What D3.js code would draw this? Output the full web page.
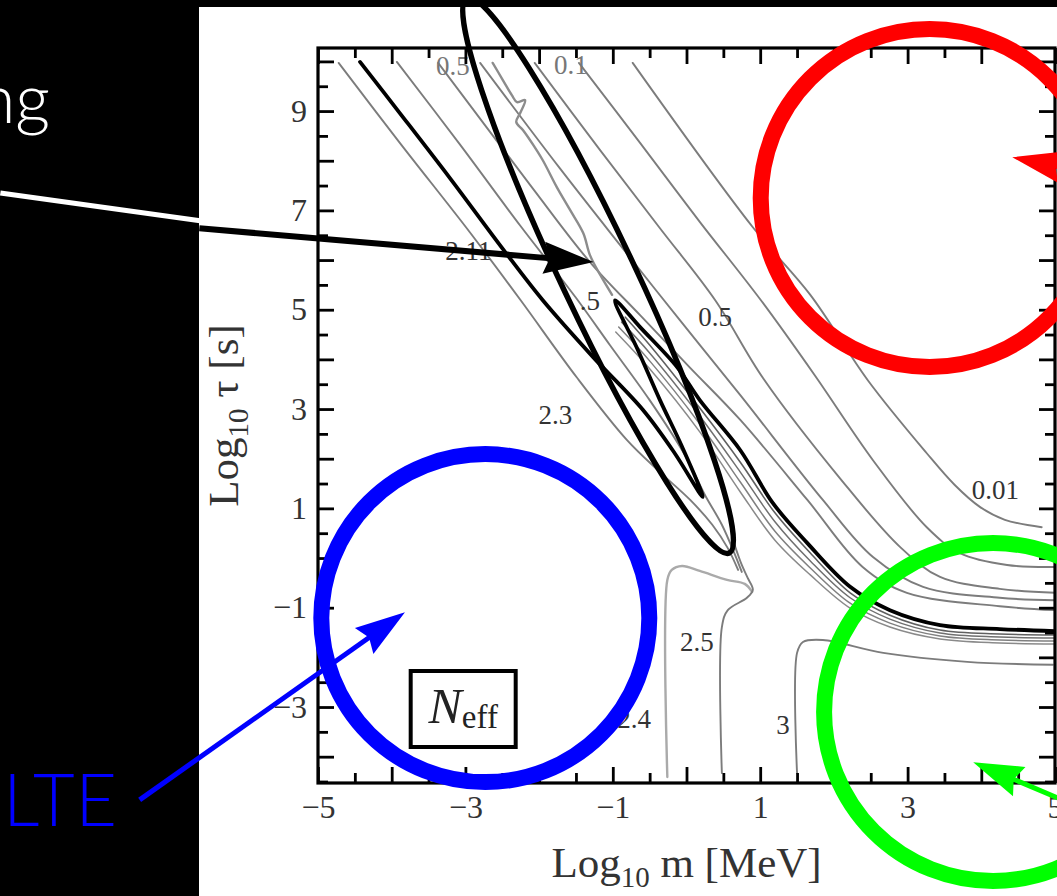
<!DOCTYPE html>
<html><head><meta charset="utf-8">
<script src="https://cdn.jsdelivr.net/npm/d3@7"></script>
<style>html,body{margin:0;padding:0;background:#000;overflow:hidden}</style>
</head><body>
<svg id="c" width="1057" height="896"></svg>
<script>
// ---------- data (log10 m [MeV], log10 tau [s]) ----------
const xDomain = [-5, 5];
const yDomain = [-4.53, 10.27];
const xMajorTicks = [-5,-4,-3,-2,-1,0,1,2,3,4,5];
const xMinorTicks = [-4.5,-3.5,-2.5,-1.5,-0.5,0.5,1.5,2.5,3.5,4.5];
const xLabelTicks = [-5,-3,-1,1,3,5];
const yMajorTicks = [-4,-3,-2,-1,0,1,2,3,4,5,6,7,8,9,10];
const yMinorTicks = [-4.5,-3.5,-2.5,-1.5,-0.5,0.5,1.5,2.5,3.5,4.5,5.5,6.5,7.5,8.5,9.5];
const yLabelTicks = [9,7,5,3,1,-1,-3];

// contour lines
const lvl001 = [[-0.73,9.97],[0.90,6.66],[1.68,5.30],[2.46,3.58],[3.26,2.11],[3.64,1.47],[3.98,1.03],[4.32,0.77],[4.82,0.62]];
const lvl01  = [[-1.46,9.97],[-0.63,8.36],[0.18,6.77],[1.01,5.19],[1.74,3.68],[2.53,1.97],[3.26,0.62],[3.71,0.10],[4.35,-0.14],[5.0,-0.18]];
const lvl05  = [[-2.06,9.97],[-1.17,8.21],[-0.36,6.64],[0.39,5.19],[1.04,3.62],[2.08,1.61],[2.90,0.22],[3.44,-0.38],[4.25,-0.62],[5.0,-0.70]];
const lvl1   = [[-2.80,9.97],[-1.72,7.85],[-0.90,6.30],[-0.09,4.79],[0.73,3.28],[1.85,1.17],[2.53,0.02],[3.21,-0.58],[4.25,-0.80],[5.0,-0.85]];
const lvl15  = [[-3.37,9.97],[-2.12,7.51],[-1.31,5.96],[-0.63,4.89],[0.05,3.83],[0.73,2.78],[1.64,1.17],[2.39,-0.18],[2.99,-0.70],[4.25,-0.97],[5.0,-1.05]];
const lvl2w  = [[-2.63,9.97],[-2.49,9.62],[-2.37,9.32],[-2.30,9.18],[-2.19,9.22],[-2.25,8.98],[-2.31,8.78],[-2.22,8.62],[-2.08,8.32],[-1.95,8.01],[-1.76,7.47],[-1.58,7.01],[-1.40,6.54],[-1.31,6.10],[-1.17,5.70],[-1.01,5.30]];
const lvl2   = [[-3.93,9.99],[-3.07,8.32],[-2.26,6.70],[-1.51,5.26],[-1.04,4.29],[-0.50,3.18],[-0.02,2.07],[0.25,1.27],[0.48,0.67],[0.66,0.06],[0.75,-0.28]];
const lvl211 = [[-4.43,9.99],[-3.89,8.96],[-3.21,7.65],[-2.48,6.20],[-1.95,5.19],[-1.27,4.05],[-0.59,2.98],[-0.16,2.11],[0.22,1.23],[-0.06,2.24],[-0.36,3.18],[-0.66,4.19],[-0.97,5.19],[-0.63,4.65],[-0.13,3.85],[0.18,3.18],[0.73,2.17],[1.17,1.11],[1.64,0.30],[2.22,-0.58],[2.76,-1.05],[3.44,-1.35],[4.25,-1.43],[5.0,-1.47]];
const lvl23  = [[-4.72,9.97],[-3.89,8.36],[-2.94,6.56],[-2.25,5.19],[-1.49,3.64],[-0.81,2.38],[-0.36,1.73],[0.05,1.17],[0.35,0.67],[0.56,0.20],[0.70,-0.24]];
const lvl24  = [[-0.26,-4.41],[-0.26,-0.44],[-0.20,-0.24],[-0.06,-0.16],[0.18,-0.26],[0.55,-0.44],[0.79,-0.52],[0.89,-0.68]];
const lvl25  = [[0.48,-4.33],[0.48,-1.39],[0.56,-1.05],[0.82,-0.80],[0.90,-0.64],[0.83,-0.40],[0.75,-0.14],[0.70,0.06],[0.63,0.36]];
const lvl3   = [[1.50,-4.33],[1.50,-1.91],[1.58,-1.69],[1.85,-1.65],[2.67,-1.91],[3.81,-2.09],[4.97,-2.15]];
const band1  = [[-0.83,4.85],[-0.50,4.29],[0.18,3.02],[0.73,1.93],[1.20,0.91],[1.68,0.10],[2.22,-0.70],[2.76,-1.15],[3.44,-1.45],[4.25,-1.53],[5.0,-1.55]];
const band2  = [[-0.88,4.75],[-0.50,4.13],[0.18,2.86],[0.73,1.73],[1.20,0.73],[1.68,-0.06],[2.22,-0.80],[2.76,-1.23],[3.44,-1.51],[4.25,-1.59],[5.0,-1.61]];
const band3  = [[-0.92,4.65],[-0.50,3.97],[0.18,2.70],[0.73,1.53],[1.20,0.54],[1.68,-0.20],[2.22,-0.91],[2.76,-1.31],[3.44,-1.57],[4.25,-1.65],[5.0,-1.67]];
const band4  = [[-0.96,4.55],[-0.50,3.81],[0.18,2.54],[0.73,1.33],[1.20,0.36],[1.68,-0.34],[2.22,-1.01],[2.76,-1.39],[3.44,-1.63],[4.25,-1.71],[5.0,-1.73]];

// contour labels
const labelText = ["0.5","0.1","2.11",".5","0.5","2.3","0.01","2.5","2.4","3"];
const labelM    = [-3.17,-1.57,-2.96,-1.31,0.39,-1.78,4.19,0.14,-0.71,1.31];
const labelTau  = [9.91,9.93,6.20,5.19,4.87,2.88,1.37,-1.69,-3.24,-3.36];

// annotations (data coordinates)
const ellipseTips = [[-2.98,11.28],[0.58,0.10]];
const ringCenters = [[3.30,7.25],[-2.73,-1.21],[4.16,-3.10]];
const arrowFrom = [[-6.61,6.64],[-7.42,-4.87],[5.61,-5.19],[5.88,7.63]];
const arrowTo   = [[-1.26,5.96],[-3.82,-1.09],[3.89,-4.11],[4.42,8.07]];
const whiteLine = [[-9.31,7.35],[-6.55,6.78]];
const neffBox = [-3.03,-3.04];

// ---------- styles ----------
const W = 1057, H = 896;
const plot = {l:318, r:1055, t:48, b:783};
const grayC = "#7c7c7c";
const lineStyles = [
  {d:lvl001, c:grayC, w:1.9}, {d:lvl01, c:grayC, w:1.9}, {d:lvl05, c:grayC, w:1.9},
  {d:lvl1, c:grayC, w:1.9}, {d:lvl15, c:grayC, w:1.9}, {d:lvl2w, c:"#8c8c8c", w:2.4},
  {d:lvl2, c:grayC, w:1.9}, {d:lvl23, c:grayC, w:1.9},
  {d:band4, c:"#8a8a8a", w:1.5}, {d:band3, c:"#808080", w:1.5}, {d:band2, c:"#707070", w:1.5}, {d:band1, c:"#606060", w:1.6},
  {d:lvl24, c:"#aaaaaa", w:2.4}, {d:lvl25, c:"#7c7c7c", w:1.9}, {d:lvl3, c:"#7c7c7c", w:1.9},
  {d:lvl211, c:"#000", w:3.8}
];
const ringColors = ["#ff0000","#0000ff","#00ff00"];
const ringRadii = [169,164,169];
const arrowColors = ["#000","#0000ff","#00ff00","#ff0000"];
const arrowWidths = [6,5,5,5];

const svg = d3.select("#c");
const x = d3.scaleLinear().domain(xDomain).range([plot.l, plot.r]);
const y = d3.scaleLinear().domain(yDomain).range([plot.b, plot.t]);
const P = d => [x(d[0]), y(d[1])];

// backgrounds
svg.append("rect").attr("width",W).attr("height",H).attr("fill","#000");
svg.append("line")
  .attr("x1",x(whiteLine[0][0])).attr("y1",y(whiteLine[0][1]))
  .attr("x2",x(whiteLine[1][0])).attr("y2",y(whiteLine[1][1]))
  .attr("stroke","#fff").attr("stroke-width",5);
svg.append("text").attr("x",50).attr("y",123).attr("text-anchor","end")
  .attr("font-family","Lato, 'Open Sans', sans-serif").attr("font-weight",300)
  .attr("font-size",68).attr("fill","#fff").text("ng");
svg.append("text").attr("x",3).attr("y",826).attr("textLength",114)
  .attr("font-family","Lato, 'Open Sans', sans-serif").attr("font-weight",300)
  .attr("font-size",72).attr("fill","#0000ff").text("LTE");
svg.append("rect").attr("x",199).attr("y",7).attr("width",W-199).attr("height",H-7).attr("fill","#fff");

// contours
svg.append("clipPath").attr("id","pc").append("rect")
  .attr("x",plot.l).attr("y",plot.t).attr("width",plot.r-plot.l).attr("height",plot.b-plot.t);
const line = d3.line().x(d=>x(d[0])).y(d=>y(d[1])).curve(d3.curveCatmullRom.alpha(0.5));
const gc = svg.append("g").attr("clip-path","url(#pc)");
gc.selectAll("path").data(lineStyles).join("path")
  .attr("d", s=>line(s.d)).attr("fill","none")
  .attr("stroke", s=>s.c).attr("stroke-width", s=>s.w)
  .attr("stroke-linejoin","round").attr("stroke-linecap","round");

// contour labels
svg.append("g").selectAll("text").data(labelText).join("text")
  .attr("x",(d,i)=>x(labelM[i])).attr("y",(d,i)=>y(labelTau[i]))
  .attr("dy","0.35em").attr("text-anchor","middle")
  .attr("font-family","'Liberation Serif', 'Times New Roman', serif").attr("font-size",27)
  .attr("fill",(d,i)=> i<2 ? "#777" : "#333").text(d=>d);

// axes
const fmt = d3.format("d");
function styleAxis(g){
  g.select(".domain").remove();
  g.selectAll("line").attr("stroke","#000").attr("stroke-width",2.8);
  g.attr("font-family","'Liberation Serif', 'Times New Roman', serif").attr("font-size",32);
  g.selectAll("text").attr("fill","#333");
}
svg.append("g").attr("transform",`translate(0,${plot.b})`)
  .call(d3.axisBottom(x).tickValues(xMajorTicks).tickSize(-16).tickPadding(12)
    .tickFormat(d=> xLabelTicks.includes(d) ? fmt(d) : "")).call(styleAxis);
svg.append("g").attr("transform",`translate(0,${plot.b})`)
  .call(d3.axisBottom(x).tickValues(xMinorTicks).tickSize(-10).tickFormat("")).call(styleAxis);
svg.append("g").attr("transform",`translate(0,${plot.t})`)
  .call(d3.axisTop(x).tickValues(xMajorTicks).tickSize(-16).tickFormat("")).call(styleAxis);
svg.append("g").attr("transform",`translate(0,${plot.t})`)
  .call(d3.axisTop(x).tickValues(xMinorTicks).tickSize(-10).tickFormat("")).call(styleAxis);
svg.append("g").attr("transform",`translate(${plot.l},0)`)
  .call(d3.axisLeft(y).tickValues(yMajorTicks).tickSize(-16).tickPadding(11)
    .tickFormat(d=> yLabelTicks.includes(d) ? fmt(d) : "")).call(styleAxis);
svg.append("g").attr("transform",`translate(${plot.l},0)`)
  .call(d3.axisLeft(y).tickValues(yMinorTicks).tickSize(-10).tickFormat("")).call(styleAxis);
svg.append("g").attr("transform",`translate(${plot.r},0)`)
  .call(d3.axisRight(y).tickValues(yMajorTicks).tickSize(-16).tickFormat("")).call(styleAxis);
svg.append("g").attr("transform",`translate(${plot.r},0)`)
  .call(d3.axisRight(y).tickValues(yMinorTicks).tickSize(-10).tickFormat("")).call(styleAxis);
svg.append("rect").attr("x",plot.l).attr("y",plot.t).attr("width",plot.r-plot.l).attr("height",plot.b-plot.t)
  .attr("fill","none").attr("stroke","#000").attr("stroke-width",3.2);

// axis titles
const serif = "'Liberation Serif', 'Times New Roman', serif";
const xt = svg.append("text").attr("x",(plot.l+plot.r)/2).attr("y",877).attr("text-anchor","middle")
  .attr("font-family",serif).attr("font-size",43).attr("fill","#333");
xt.append("tspan").text("Log");
xt.append("tspan").attr("font-size",29).attr("dy",10).text("10");
xt.append("tspan").attr("dy",-10).text(" m [MeV]");
const yt = svg.append("text").attr("transform",`translate(238,${(plot.t+plot.b)/2}) rotate(-90)`)
  .attr("text-anchor","middle").attr("font-family",serif).attr("font-size",43).attr("fill","#333");
yt.append("tspan").text("Log");
yt.append("tspan").attr("font-size",29).attr("dy",10).text("10");
yt.append("tspan").attr("dy",-10).text(" τ [s]");

// N_eff box
const nb = P(neffBox);
svg.append("rect").attr("x",nb[0]-52.5).attr("y",nb[1]-38).attr("width",105).attr("height",76)
  .attr("fill","#fff").attr("stroke","#000").attr("stroke-width",4);
const nt = svg.append("text").attr("x",nb[0]).attr("y",nb[1]+14).attr("text-anchor","middle")
  .attr("font-family",serif).attr("fill","#222");
nt.append("tspan").attr("font-style","italic").attr("font-size",50).text("N");
nt.append("tspan").attr("font-size",33).attr("dy",5).text("eff");

// ellipse
const e1 = P(ellipseTips[0]), e2 = P(ellipseTips[1]);
const ec = [(e1[0]+e2[0])/2, (e1[1]+e2[1])/2];
const ea = Math.hypot(e2[0]-e1[0], e2[1]-e1[1])/2;
const eang = Math.atan2(e2[1]-e1[1], e2[0]-e1[0])*180/Math.PI;
svg.append("ellipse").attr("cx",0).attr("cy",0).attr("rx",ea).attr("ry",37)
  .attr("transform",`translate(${ec[0]},${ec[1]}) rotate(${eang})`)
  .attr("fill","none").attr("stroke","#000").attr("stroke-width",5.5);

// arrows
function arrow(i){
  const a = P(arrowFrom[i]), b = P(arrowTo[i]);
  const dx=b[0]-a[0], dy=b[1]-a[1], L=Math.hypot(dx,dy), ux=dx/L, uy=dy/L, nx=-uy, ny=ux;
  const hl = 50, hw = 16;
  svg.append("line").attr("x1",a[0]).attr("y1",a[1]).attr("x2",b[0]-ux*hl*0.8).attr("y2",b[1]-uy*hl*0.8)
    .attr("stroke",arrowColors[i]).attr("stroke-width",arrowWidths[i]);
  const pts = [[b[0],b[1]],[b[0]-ux*hl+nx*hw,b[1]-uy*hl+ny*hw],[b[0]-ux*hl*0.88,b[1]-uy*hl*0.88],[b[0]-ux*hl-nx*hw,b[1]-uy*hl-ny*hw]];
  svg.append("path").attr("d","M"+pts.map(p=>p.join(",")).join("L")+"Z").attr("fill",arrowColors[i]);
}
arrow(0);

// rings
svg.append("g").selectAll("circle").data(ringCenters).join("circle")
  .attr("cx",d=>x(d[0])).attr("cy",d=>y(d[1])).attr("r",(d,i)=>ringRadii[i])
  .attr("fill","none").attr("stroke",(d,i)=>ringColors[i]).attr("stroke-width",16);
arrow(1); arrow(2); arrow(3);

// top black bar
svg.append("rect").attr("x",0).attr("y",0).attr("width",W).attr("height",7).attr("fill","#000");
</script>
</body></html>
